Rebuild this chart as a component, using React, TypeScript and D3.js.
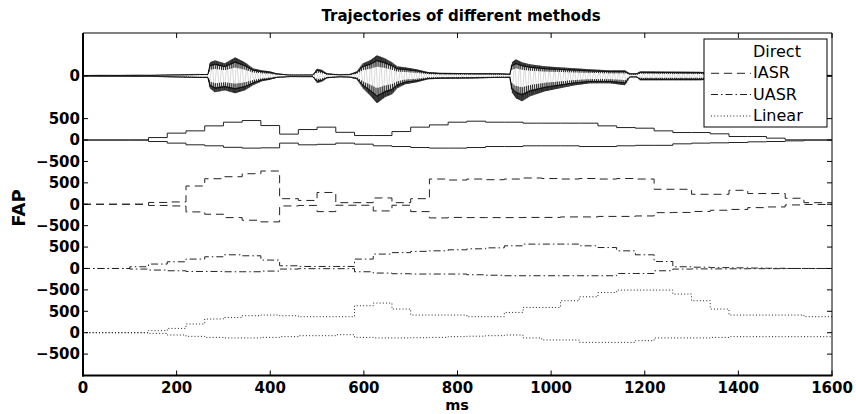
import React from 'react';
import * as d3 from 'd3';

// ---------- data ----------
const title = 'Trajectories of different methods';
const xLabel = 'ms';
const yLabel = 'FAP';

const xTicks = [0, 200, 400, 600, 800, 1000, 1200, 1400, 1600];
// stacked traces: each series drawn around its own offset
const yTickValues = [6000, 5000, 4500, 4000, 3500, 3000, 2500, 2000, 1500, 1000, 500, 0, -500];
const yTickLabels = ['0', '500', '0', '\u2212500', '500', '0', '\u2212500', '500', '0', '\u2212500', '500', '0', '\u2212500'];

const waveOffset = 6000;
const directOffset = 4500;
const iasrOffset = 3000;
const uasrOffset = 1500;
const linearOffset = 0;

// speech waveform envelope (ms, upper, lower)
const waveMs = [0, 143, 186, 250, 267, 271, 282, 303, 325, 346, 363, 382, 399, 414, 442, 491, 500, 510, 521, 549, 570, 585, 598, 613, 628, 645, 660, 671, 688, 713, 737, 763, 827, 891, 912, 916, 925, 938, 955, 987, 1019, 1051, 1083, 1126, 1158, 1168, 1183, 1190, 1318, 1339, 1403, 1489, 1600];
const waveUpper = [10, 15, 25, 40, 40, 315, 361, 291, 431, 315, 175, 128, 105, 58, 25, 25, 168, 140, 58, 30, 40, 105, 291, 361, 478, 408, 315, 221, 198, 152, 89, 70, 63, 58, 47, 315, 385, 315, 268, 221, 198, 175, 152, 128, 128, 58, 58, 105, 93, 80, 60, 30, 10];
const waveLower = [-10, -15, -30, -50, -50, -291, -385, -338, -408, -338, -221, -128, -93, -47, -25, -25, -168, -140, -58, -30, -40, -82, -291, -455, -641, -501, -431, -291, -198, -152, -82, -70, -63, -47, -47, -385, -525, -595, -478, -361, -291, -221, -175, -175, -221, -35, -35, -105, -105, -90, -60, -30, -10];

// frame start times (ms) of the FAP trajectories
const frameMs = [0, 100, 140, 180, 220, 260, 300, 340, 380, 420, 460, 500, 540, 580, 620, 660, 700, 740, 780, 820, 860, 900, 940, 980, 1020, 1060, 1100, 1140, 1180, 1220, 1260, 1300, 1340, 1380, 1420, 1460, 1500, 1540];

const directUpper = [0, 0, 58, 161, 214, 331, 417, 455, 338, 138, 245, 301, 180, 105, 105, 198, 301, 354, 417, 440, 417, 417, 394, 394, 394, 394, 331, 291, 277, 214, 175, 175, 145, 82, 82, 44, 5, 0];
const directLower = [0, 0, -35, -72, -112, -135, -170, -189, -182, -72, -112, -100, -72, -96, -135, -152, -175, -189, -189, -175, -152, -152, -135, -135, -135, -152, -152, -135, -124, -124, -89, -72, -65, -58, -42, -35, -19, 0];

const iasrUpper = [0, 0, 42, 54, 426, 596, 643, 713, 776, 130, 89, 275, 37, 37, 147, 37, 130, 589, 566, 589, 573, 589, 613, 601, 589, 601, 589, 601, 589, 350, 350, 233, 233, 326, 250, 250, 140, 37];
const iasrLower = [0, 0, -28, -40, -179, -233, -312, -373, -412, -40, -28, -172, -23, -23, -156, -23, -172, -319, -308, -312, -312, -312, -308, -308, -296, -296, -284, -284, -273, -196, -191, -168, -140, -121, -79, -63, -16, -5];

const uasrUpper = [0, 40, 103, 156, 219, 273, 319, 296, 196, 63, 47, 47, 47, 219, 336, 370, 400, 412, 436, 459, 482, 529, 569, 569, 569, 529, 489, 412, 319, 163, 40, 30, 20, 15, 10, 5, 0, 0];
const uasrLower = [0, -14, -37, -54, -70, -70, -77, -77, -61, -14, -5, -5, -5, -77, -107, -123, -130, -130, -130, -147, -158, -170, -170, -170, -170, -170, -170, -117, -117, -54, -14, -10, -10, -8, -5, -5, 0, 0];

const linearUpper = [0, 0, 47, 100, 203, 319, 356, 396, 412, 396, 373, 373, 373, 629, 692, 552, 412, 412, 412, 373, 373, 473, 589, 589, 746, 839, 939, 995, 995, 995, 902, 746, 552, 412, 412, 412, 412, 373];
const linearLower = [0, 0, -16, -54, -86, -110, -123, -123, -110, -93, -70, -70, -47, -110, -123, -123, -117, -110, -93, -82, -70, -54, -123, -170, -170, -226, -226, -226, -186, -123, -123, -123, -110, -93, -93, -93, -93, -93];

const legendNames = ['Direct', 'IASR', 'UASR', 'Linear'];

// ---------- layout / styles ----------
const W = 856;
const H = 414;
const PL = 83, PR = 832, PT = 33, PB = 375.5;
const FONT = '"DejaVu Sans", sans-serif';

const dashes: Record<string, string | undefined> = {
  Direct: undefined,
  IASR: '8,5',
  UASR: '7,3,1.5,3',
  Linear: '1,2.2',
};

export default function App() {
  const x = d3.scaleLinear().domain([0, 1600]).range([PL, PR]);
  const y = d3.scaleLinear().domain([-1000, 7000]).range([PB, PT]);

  const timesExt = [...frameMs, 1600];
  const step = (vals: number[], offset: number) =>
    d3
      .line<number>()
      .x((_, i) => x(timesExt[i]))
      .y((v) => y(v + offset))
      .curve(d3.curveStepAfter)([...vals, vals[vals.length - 1]]) || '';

  // waveform rendering from the envelope
  const up = d3.scaleLinear().domain(waveMs).range(waveUpper);
  const lo = d3.scaleLinear().domain(waveMs).range(waveLower);
  const lineT = d3.line<[number, number]>().x((p) => x(p[0])).y((p) => y(waveOffset + p[1]));

  // sparse full-swing strokes (light)
  const gridWide = d3.range(0, 1600.01, 5.3);
  const zigWide = lineT(gridWide.map((t, i) => [t, i % 2 === 0 ? up(t) : lo(t)])) || '';
  // dense textured ridges along each envelope
  const gridFine = d3.range(0, 1600.01, 1.1);
  const ridgeUp = lineT(gridFine.map((t, i) => [t, i % 2 === 0 ? up(t) : up(t) * (i % 4 === 1 ? 0.45 : 0.7)])) || '';
  const ridgeLo = lineT(gridFine.map((t, i) => [t, i % 2 === 0 ? lo(t) : lo(t) * (i % 4 === 1 ? 0.45 : 0.7)])) || '';
  const envUp = lineT(gridFine.map((t) => [t, up(t) * 0.75])) || '';
  const envLo = lineT(gridFine.map((t) => [t, lo(t) * 0.75])) || '';

  const series = [
    { name: 'Direct', upper: directUpper, lower: directLower, off: directOffset },
    { name: 'IASR', upper: iasrUpper, lower: iasrLower, off: iasrOffset },
    { name: 'UASR', upper: uasrUpper, lower: uasrLower, off: uasrOffset },
    { name: 'Linear', upper: linearUpper, lower: linearLower, off: linearOffset },
  ];

  const tickLen = 5;
  const legX = 704, legY = 39, legW = 123, legH = 88;
  const legBase = [56.7, 78.3, 99.5, 121];

  return (
    <svg
      width={W}
      height={H}
      style={{ position: 'absolute', left: 0, top: 0, background: '#fff' }}
      fontFamily={FONT}
    >
      <rect x={0} y={0} width={W} height={H} fill="#fff" />
      <defs>
        <clipPath id="plotClip">
          <rect x={PL} y={PT} width={PR - PL} height={PB - PT} />
        </clipPath>
      </defs>

      {/* title */}
      <text x={461} y={20.5} textAnchor="middle" fontSize={15} fontWeight="bold" fill="#000">
        {title}
      </text>

      <g clipPath="url(#plotClip)">
        {/* waveform */}
        <path d={zigWide} fill="none" stroke="#000" strokeWidth={0.5} strokeOpacity={0.3} />
        <path d={ridgeUp} fill="none" stroke="#000" strokeWidth={0.7} strokeOpacity={0.85} />
        <path d={ridgeLo} fill="none" stroke="#000" strokeWidth={0.7} strokeOpacity={0.85} />
        <path d={envUp} fill="none" stroke="#000" strokeWidth={1} />
        <path d={envLo} fill="none" stroke="#000" strokeWidth={1} />

        {/* trajectories */}
        {series.map((s) => (
          <g key={s.name}>
            <path d={step(s.upper, s.off)} fill="none" stroke="#222" strokeWidth={1} strokeDasharray={dashes[s.name]} />
            <path d={step(s.lower, s.off)} fill="none" stroke="#222" strokeWidth={1} strokeDasharray={dashes[s.name]} />
          </g>
        ))}
      </g>

      {/* axes box */}
      <line x1={PL} x2={PR} y1={PT} y2={PT} stroke="#000" strokeWidth={1} />
      <line x1={PR} x2={PR} y1={PT} y2={PB} stroke="#000" strokeWidth={1} />
      <line x1={PL} x2={PL} y1={PT} y2={PB + 1} stroke="#000" strokeWidth={2} />
      <line x1={PL - 1} x2={PR + 0.5} y1={PB} y2={PB} stroke="#000" strokeWidth={2} />

      {/* x ticks */}
      {xTicks.map((t) => (
        <g key={'x' + t}>
          <line x1={x(t)} x2={x(t)} y1={PB} y2={PB - tickLen} stroke="#000" strokeWidth={1} />
          <line x1={x(t)} x2={x(t)} y1={PT} y2={PT + tickLen} stroke="#000" strokeWidth={1} />
          <text x={x(t)} y={393} textAnchor="middle" fontSize={15} fontWeight="bold" fill="#000">
            {String(t)}
          </text>
        </g>
      ))}

      {/* y ticks */}
      {yTickValues.map((v, i) => (
        <g key={'y' + i}>
          <line x1={PL} x2={PL + tickLen} y1={y(v)} y2={y(v)} stroke="#000" strokeWidth={1} />
          <line x1={PR} x2={PR - tickLen} y1={y(v)} y2={y(v)} stroke="#000" strokeWidth={1} />
          <text x={80} y={y(v)} dy="0.36em" textAnchor="end" fontSize={15} fontWeight="bold" fill="#000">
            {yTickLabels[i]}
          </text>
        </g>
      ))}

      {/* axis labels */}
      <text x={457} y={410} textAnchor="middle" fontSize={14.5} fontWeight="bold" fill="#000">
        {xLabel}
      </text>
      <text
        transform={`translate(24.5, 208) rotate(-90)`}
        textAnchor="middle"
        fontSize={18}
        fontWeight="bold"
        fill="#000"
      >
        {yLabel}
      </text>

      {/* legend */}
      <rect x={legX} y={legY} width={legW} height={legH} fill="#fff" stroke="#000" strokeWidth={1} />
      {legendNames.map((n, i) => (
        <g key={n}>
          {i > 0 && (
            <line
              x1={711}
              x2={751}
              y1={legBase[i] - 5}
              y2={legBase[i] - 5}
              stroke="#222"
              strokeWidth={1}
              strokeDasharray={dashes[n]}
            />
          )}
          <text x={753} y={legBase[i]} fontSize={16} fill="#000">
            {n}
          </text>
        </g>
      ))}
    </svg>
  );
}
